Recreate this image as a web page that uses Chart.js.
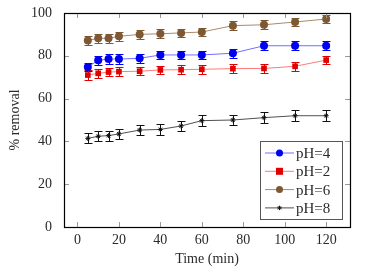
<!DOCTYPE html>
<html>
<head>
<meta charset="utf-8">
<script src="https://cdn.jsdelivr.net/npm/chart.js@4"></script>
<style>
  html, body { margin: 0; padding: 0; background: #fff; }
  #wrap { width: 372px; height: 272px; }
</style>
</head>
<body>
<div id="wrap"><canvas id="chart" width="372" height="272"></canvas></div>
<script>
// Data
const times = [5, 10, 15, 20, 30, 40, 50, 60, 75, 90, 105, 120]
const ph4 = [74.8, 77.9, 78.5, 78.5, 78.8, 80.4, 80.4, 80.4, 81.2, 84.7, 84.7, 84.7]
const ph2 = [71.0, 71.8, 72.4, 72.6, 72.8, 73.4, 73.5, 73.7, 74.0, 74.1, 75.1, 78.0]
const ph6 = [87.1, 88.2, 88.2, 89.1, 90.0, 90.3, 90.7, 91.1, 94.1, 94.5, 95.8, 97.2]
const ph8 = [41.4, 42.4, 42.7, 43.5, 45.3, 45.6, 47.2, 49.7, 50.0, 51.1, 52.0, 52.0]
const err4 = [2.0, 2.0, 2.2, 2.2, 2.0, 2.0, 2.0, 2.0, 2.0, 2.2, 2.0, 2.2]
const err2 = [2.2, 2.0, 2.0, 2.0, 2.0, 2.0, 2.0, 2.0, 2.0, 2.0, 2.0, 2.0]
const err6 = [2.2, 2.0, 2.0, 2.0, 2.0, 2.0, 2.0, 2.0, 2.0, 2.0, 2.0, 2.0]
const err8 = [2.3, 2.3, 2.3, 2.3, 2.5, 2.5, 2.5, 2.5, 2.5, 2.5, 2.5, 2.6]
const xTicks = [0, 20, 40, 60, 80, 100, 120]
const yTicks = [0, 20, 40, 60, 80, 100]

const FONT = "'Liberation Serif', 'DejaVu Serif', serif"
const TEXT = "#2a2a2a"

function series(label, values, errors, line, mark, style, radius) {
  return {
    label: label,
    data: times.map((t, i) => ({ x: t, y: values[i] })),
    errors: errors,
    borderColor: line,
    borderWidth: 1,
    backgroundColor: mark,
    pointBackgroundColor: mark,
    pointBorderColor: mark,
    pointBorderWidth: style === "star" ? 1 : 0,
    pointStyle: style,
    pointRadius: radius,
    markColor: mark,
    tension: 0,
  }
}

// error bars, inner ticks, frame and legend
const decorations = {
  id: "decorations",
  beforeDatasetsDraw(chart) {
    const ctx = chart.ctx
    const xs = chart.scales.x
    const ys = chart.scales.y
    ctx.save()
    chart.data.datasets.forEach((ds) => {
      ctx.strokeStyle = ds.markColor
      ctx.lineWidth = 1
      ds.data.forEach((p, i) => {
        const px = Math.round(xs.getPixelForValue(p.x)) + 0.5
        const top = Math.round(ys.getPixelForValue(p.y + ds.errors[i])) + 0.5
        const bot = Math.round(ys.getPixelForValue(p.y - ds.errors[i])) + 0.5
        ctx.beginPath()
        ctx.moveTo(px, top); ctx.lineTo(px, bot)
        ctx.moveTo(px - 4, top); ctx.lineTo(px + 4, top)
        ctx.moveTo(px - 4, bot); ctx.lineTo(px + 4, bot)
        ctx.stroke()
      })
    })
    ctx.restore()
  },
  afterDraw(chart) {
    const ctx = chart.ctx
    const a = chart.chartArea
    const xs = chart.scales.x
    const ys = chart.scales.y
    ctx.save()
    // inner ticks
    ctx.strokeStyle = "#9a9a9a"
    ctx.lineWidth = 1
    ctx.beginPath()
    xTicks.forEach((v) => {
      const px = Math.round(xs.getPixelForValue(v)) + 0.5
      ctx.moveTo(px, a.bottom); ctx.lineTo(px, a.bottom - 5)
      ctx.moveTo(px, a.top); ctx.lineTo(px, a.top + 5)
    })
    yTicks.forEach((v) => {
      const py = Math.round(ys.getPixelForValue(v)) + 0.5
      ctx.moveTo(a.left, py); ctx.lineTo(a.left + 5, py)
      ctx.moveTo(a.right, py); ctx.lineTo(a.right - 5, py)
    })
    ctx.stroke()
    // frame
    ctx.strokeStyle = "#000"
    ctx.lineWidth = 1.2
    ctx.strokeRect(Math.round(a.left) + 0.5, Math.round(a.top) + 0.5,
      Math.round(a.right - a.left), Math.round(a.bottom - a.top))

    // legend box
    const lx = 260, ly = 141, lw = 82, lh = 78
    ctx.fillStyle = "#fff"
    ctx.fillRect(lx, ly, lw, lh)
    ctx.strokeStyle = "#555"
    ctx.lineWidth = 1
    ctx.strokeRect(lx + 0.5, ly + 0.5, lw, lh)
    ctx.font = "15px " + FONT
    ctx.textBaseline = "middle"
    chart.data.datasets.forEach((ds, i) => {
      const y = ly + 12 + i * 18.3
      ctx.strokeStyle = ds.borderColor
      ctx.lineWidth = 1
      ctx.beginPath()
      ctx.moveTo(lx + 5, y); ctx.lineTo(lx + 34, y)
      ctx.stroke()
      const mx = lx + 19.5
      ctx.fillStyle = ds.markColor
      ctx.strokeStyle = ds.markColor
      if (ds.pointStyle === "rect") {
        ctx.fillRect(mx - 3.5, y - 3.5, 7, 7)
      } else if (ds.pointStyle === "star") {
        Chart.helpers.drawPoint(ctx, { pointStyle: "star", radius: 2.2, borderWidth: 1 }, mx, y)
      } else {
        ctx.beginPath(); ctx.arc(mx, y, 3.5, 0, Math.PI * 2); ctx.fill()
      }
      ctx.fillStyle = TEXT
      ctx.fillText(ds.label, lx + 36, y + 1)
    })
    ctx.restore()
  },
}

new Chart(document.getElementById("chart"), {
  type: "line",
  data: {
    datasets: [
      series("pH=4", ph4, err4, "#7070ff", "#0000f0", "circle", 4),
      series("pH=2", ph2, err2, "#ff7a7a", "#e00000", "rect", 4),
      series("pH=6", ph6, err6, "#a88a6c", "#7d5833", "circle", 4),
      series("pH=8", ph8, err8, "#505050", "#111", "star", 2.5),
    ],
  },
  options: {
    responsive: false,
    animation: false,
    layout: { padding: { left: 3, right: 22, top: 13, bottom: 0 } },
    plugins: { legend: { display: false }, tooltip: { enabled: false } },
    scales: {
      x: {
        type: "linear",
        min: -6.5,
        max: 131.5,
        afterBuildTicks: (s) => { s.ticks = xTicks.map((v) => ({ value: v })) },
        afterFit: (s) => { s.height = 45 },
        grid: { display: false, drawTicks: false, tickLength: 0 },
        border: { display: false },
        ticks: { color: TEXT, font: { family: FONT, size: 14 }, padding: 5, maxRotation: 0 },
        title: { display: true, text: "Time (min)", color: TEXT, font: { family: FONT, size: 14 }, padding: { top: 2 } },
      },
      y: {
        min: 0,
        max: 100,
        afterBuildTicks: (s) => { s.ticks = yTicks.map((v) => ({ value: v })) },
        afterFit: (s) => {
          s.width = 61
          s.paddingTop = 0
          s.paddingBottom = 0
        },
        grid: { display: false, drawTicks: false, tickLength: 0 },
        border: { display: false },
        ticks: { color: TEXT, font: { family: FONT, size: 14 }, padding: 12 },
        title: { display: true, text: "% removal", color: TEXT, font: { family: FONT, size: 14 }, padding: { bottom: 6 } },
      },
    },
  },
  plugins: [decorations],
})
</script>
</body>
</html>
